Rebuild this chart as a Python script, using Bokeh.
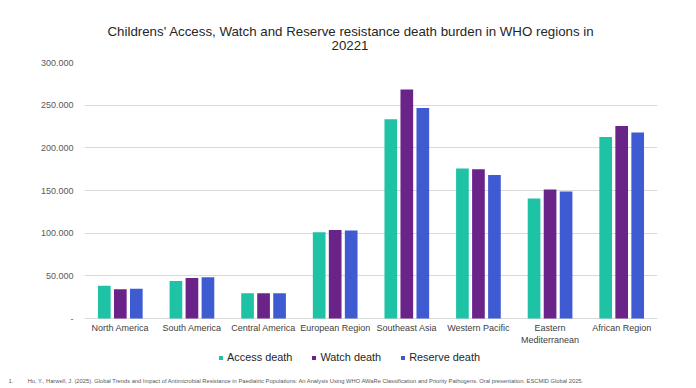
from bokeh.plotting import figure
from bokeh.models import (ColumnDataSource, FactorRange, Range1d, Legend, LegendItem, Title,
                          CustomJSTickFormatter, FixedTicker)
from bokeh.transform import dodge
from bokeh.embed import file_html
from bokeh.resources import INLINE

regions = ["North America", "South America", "Central America", "European Region",
           "Southeast Asia", "Western Pacific", "Eastern\nMediterranean", "African Region"]
access = [38300, 44000, 29700, 101200, 233500, 175800, 140600, 212800]
watch = [34400, 47600, 29700, 103800, 268300, 175000, 151200, 225500]
reserve = [35000, 48400, 29700, 103100, 246800, 168300, 148800, 218000]
series_names = ["Access death", "Watch death", "Reserve death"]
colors = ["#1EC3A6", "#6A2388", "#3F5BD2"]
y_ticks = [0, 50000, 100000, 150000, 200000, 250000, 300000]

title1 = "Childrens' Access, Watch and Reserve resistance death burden in WHO regions in"
title2 = "20221"
footnote = ("Hu, Y., Harwell, J. (2025). Global Trends and Impact of Antimicrobial Resistance in "
            "Paediatric Populations: An Analysis Using WHO AWaRe Classification and Priority "
            "Pathogens. Oral presentation. ESCMID Global 2025.")

src = ColumnDataSource(dict(region=regions, access=access, watch=watch, reserve=reserve))

FONT = "Liberation Sans"
W, H = 696, 388
TOP, ZERO, BOTTOM = 62, 318, 372          # pixel rows of 300k gridline, baseline, frame bottom
y_max = 300000
y_min = -y_max * (BOTTOM - ZERO) / (ZERO - TOP)   # room below the baseline for labels & legend

p = figure(width=W, height=H, x_range=FactorRange(*regions), y_range=Range1d(y_min, y_max),
           output_backend="svg", toolbar_location=None,
           min_border_left=84, min_border_right=39, min_border_top=TOP,
           min_border_bottom=H - BOTTOM)
p.outline_line_color = None
p.background_fill_color = "white"
p.border_fill_color = "white"

renderers = []
for key, off, col in zip(["access", "watch", "reserve"], [-0.2235, 0.0, 0.2235], colors):
    r = p.vbar(x=dodge("region", off, range=p.x_range), top=key, width=0.177, source=src,
               fill_color=col, line_color=None)
    renderers.append(r)

p.xgrid.grid_line_color = None
p.ygrid.grid_line_color = "#D9D9D9"
p.ygrid.grid_line_width = 1
p.ygrid.ticker = FixedTicker(ticks=y_ticks)
p.yaxis.ticker = FixedTicker(ticks=y_ticks)
p.yaxis.formatter = CustomJSTickFormatter(
    code="return tick == 0 ? '-' : (tick/1000).toFixed(0) + '.000';")
for ax in (p.xaxis[0], p.yaxis[0]):
    ax.axis_line_color = None
    ax.major_tick_line_color = None
    ax.minor_tick_line_color = None
    ax.major_tick_out = 0
    ax.major_tick_in = 0
    ax.major_label_text_font = FONT
    ax.major_label_text_font_size = "9px"
p.yaxis.major_label_text_color = "#595959"
p.yaxis.major_label_standoff = 11
p.xaxis.major_label_text_color = "#404040"
p.xaxis.major_label_standoff = 4
p.xaxis.fixed_location = 0

# titles (first added sits closest to the frame)
p.add_layout(Title(text="\u00a0", standoff=0, text_font=FONT, text_font_size="10px"), "above")
p.add_layout(Title(text=title2, align="left", offset=247, standoff=0,
                   text_font=FONT, text_font_size="13.3px", text_font_style="normal",
                   text_color="#262626"), "above")
p.add_layout(Title(text=title1, align="left", offset=23, standoff=0, text_font=FONT,
                   text_font_size="13.3px", text_font_style="normal", text_color="#262626"),
             "above")

legend = Legend(items=[LegendItem(label=n, renderers=[r]) for n, r in zip(series_names, renderers)],
                orientation="horizontal", location=(134, 9),
                glyph_width=5, glyph_height=5, label_standoff=4, spacing=19,
                padding=2, margin=0, border_line_color=None, background_fill_alpha=0,
                label_text_font=FONT, label_text_font_size="10.9px", label_text_color="#262626")
p.add_layout(legend, "center")

nbsp = "\u00a0"
p.add_layout(Title(text="1." + nbsp * 9 + footnote, align="left", offset=-76, standoff=6,
                   text_font=FONT, text_font_size="5.75px", text_font_style="normal",
                   text_color="#595959"), "below")

open("out.html", "w").write(file_html(p, INLINE))
